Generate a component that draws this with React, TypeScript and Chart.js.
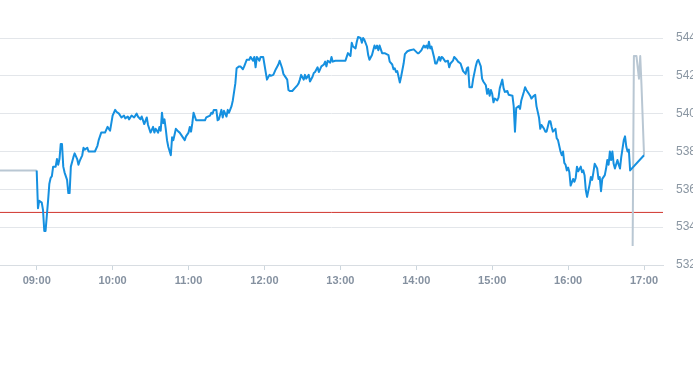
import React, { useEffect, useRef } from "react";
import { Chart, registerables } from "chart.js";

Chart.register(...registerables);

const blueTimes = [
  "09:00","09:01","09:02","09:04","09:05","09:06","09:07","09:09","09:10","09:11","09:12","09:13","09:15","09:16","09:17","09:18","09:19","09:20","09:21","09:22","09:24","09:25","09:26","09:27","09:29","09:30","09:32","09:33","09:34","09:36","09:37","09:38","09:40","09:41","09:44","09:46","09:48","09:49","09:50","09:51","09:53","09:54","09:56","09:58","09:59",
  "10:00","10:02","10:03","10:05","10:07","10:09","10:10","10:12","10:13","10:15","10:17","10:19","10:20","10:22","10:23","10:25","10:27","10:28","10:30","10:32","10:33","10:34","10:36","10:37","10:38","10:39","10:40","10:41","10:42","10:43","10:44","10:46","10:47","10:48","10:49","10:50","10:52","10:53","10:55","10:57","10:58",
  "11:00","11:01","11:02","11:03","11:04","11:06","11:08","11:11","11:13","11:14","11:17","11:18","11:19","11:20","11:22","11:23","11:24","11:26","11:27","11:28","11:30","11:31","11:32","11:34","11:35","11:37","11:38","11:40","11:41","11:43","11:44","11:46","11:48","11:49","11:51","11:52","11:53","11:54","11:56","11:57","11:59",
  "12:00","12:01","12:02","12:04","12:05","12:07","12:09","12:11","12:12","12:14","12:15","12:16","12:18","12:19","12:20","12:22","12:24","12:26","12:27","12:28","12:29","12:31","12:32","12:33","12:35","12:36","12:38","12:39","12:40","12:42","12:43","12:45","12:47","12:48","12:49","12:50","12:52","12:53","12:54","12:56","12:58",
  "13:01","13:04","13:05","13:06","13:08","13:09","13:10","13:12","13:13","13:14","13:16","13:17","13:18","13:19","13:21","13:22","13:23","13:25","13:26","13:27","13:28","13:29","13:30","13:31","13:33","13:35","13:38","13:39","13:41","13:42","13:43","13:44","13:45","13:46","13:47","13:48","13:50","13:51","13:53","13:55","13:58",
  "14:01","14:02","14:04","14:06","14:07","14:08","14:09","14:10","14:11","14:12","14:14","14:15","14:16","14:18","14:19","14:20","14:21","14:23","14:25","14:26","14:27","14:29","14:30","14:32","14:33","14:35","14:36","14:37","14:39","14:40","14:41","14:42","14:44","14:45","14:47","14:48","14:49","14:51","14:52","14:53","14:55","14:56","14:57","14:58","14:59",
  "15:00","15:01","15:02","15:04","15:05","15:06","15:08","15:09","15:10","15:12","15:13","15:16","15:17","15:18","15:19","15:21","15:22","15:23","15:25","15:26","15:27","15:29","15:30","15:31","15:33","15:34","15:35","15:37","15:38","15:39","15:41","15:42","15:43","15:45","15:46","15:47","15:48","15:50","15:51","15:52","15:54","15:55","15:56","15:57","15:58","15:59",
  "16:00","16:01","16:02","16:04","16:05","16:06","16:07","16:08","16:10","16:11","16:12","16:13","16:14","16:15","16:17","16:18","16:19","16:20","16:21","16:23","16:24","16:25","16:26","16:27","16:29","16:30","16:31","16:32","16:33","16:34","16:35","16:36","16:37","16:39","16:40","16:41","16:42","16:44","16:45","16:46","16:47","16:48","16:49",
  "17:00"
];

const blueValues = [
  537.0,535.0,535.4,535.3,534.9,533.8,533.8,535.4,536.3,536.6,536.7,537.2,537.2,537.6,537.3,537.6,538.4,538.4,537.2,536.9,536.5,535.8,535.8,537.2,537.7,537.9,537.6,537.3,537.5,537.8,538.2,538.1,538.2,538.0,538.0,538.0,538.3,538.6,538.8,539.0,539.0,539.0,539.3,539.1,539.5,
  539.9,540.2,540.1,540.0,539.8,539.9,539.75,539.85,539.7,539.9,539.8,540.0,539.85,539.7,539.85,539.45,539.8,539.4,539.0,539.3,539.0,539.2,539.0,539.3,539.1,540.05,539.5,539.7,539.2,538.6,538.25,537.8,538.75,538.6,538.9,539.2,539.05,539.0,538.8,538.6,538.8,
  539.0,539.3,539.05,539.5,540.05,539.65,539.65,539.65,539.65,539.8,539.9,540.05,540.0,540.2,540.2,539.65,539.7,540.2,539.8,540.15,539.85,540.2,540.05,540.4,540.7,541.6,542.4,542.5,542.5,542.35,542.5,542.85,542.85,543.0,542.8,543.0,542.45,543.0,542.8,543.0,543.0,
  542.6,542.2,541.8,542.05,542.0,542.05,542.35,542.6,542.8,542.4,542.1,542.0,541.8,541.25,541.2,541.2,541.35,541.5,541.6,541.8,542.05,541.8,542.05,541.85,542.05,541.7,541.95,542.15,542.2,542.45,542.2,542.5,542.6,542.75,542.5,542.8,542.7,543.0,542.75,542.8,542.8,
  542.8,542.8,543.0,543.2,543.05,543.75,543.55,543.45,543.8,544.05,544.0,543.75,544.0,543.9,543.55,543.1,542.85,543.1,543.35,543.6,543.45,543.6,543.35,543.6,543.2,543.2,543.1,542.75,542.6,542.35,542.4,542.2,542.25,541.95,541.65,541.95,542.65,543.15,543.3,543.35,543.4,
  543.2,543.2,543.35,543.6,543.5,543.6,543.45,543.8,543.45,543.55,543.0,542.65,542.65,543.0,542.8,543.0,542.95,542.75,542.8,542.45,542.65,542.8,543.0,542.85,542.75,542.65,542.45,542.25,542.1,542.4,542.45,541.4,541.4,541.85,542.5,542.75,542.85,542.5,541.85,541.7,541.5,541.05,541.3,540.95,541.25,
  541.05,540.6,540.8,540.7,540.85,541.35,541.8,541.35,541.15,541.2,541.0,540.95,540.4,539.05,540.3,540.4,540.25,540.7,541.15,541.4,541.25,541.05,540.95,540.8,540.95,541.0,540.4,539.8,539.2,539.4,539.2,539.05,539.05,539.6,539.6,539.3,539.05,539.2,538.7,538.6,538.0,537.8,538.0,537.4,537.3,537.0,
  537.15,536.9,536.2,536.55,536.4,536.6,537.2,536.95,537.2,536.9,537.0,536.75,535.95,535.6,536.25,536.65,536.5,536.9,537.35,537.1,536.55,536.65,535.9,536.55,536.75,537.1,537.55,537.3,538.0,537.55,538.0,537.35,537.1,537.55,537.3,537.1,537.7,538.6,538.8,538.25,538.0,538.1,537.0,
  537.8
];

const preTimes = ["08:31", "09:00"];
const preValues = [537.0, 537.0];

const postTimes = ["16:51", "16:52", "16:54", "16:56", "16:57", "16:58", "17:00"];
const postValues = [533.0, 543.05, 543.05, 541.85, 543.05, 541.5, 537.8];

const previousClose = 534.78;

const xTickLabels = ["09:00", "10:00", "11:00", "12:00", "13:00", "14:00", "15:00", "16:00", "17:00"];
const yMin = 532;
const yMax = 544;
const yStep = 2;
const xStart = "08:31";
const xEnd = "17:15";

const toMin = (s: string) => {
  const [h, m] = s.split(":").map(Number);
  return h * 60 + m;
};
const fmt = (v: number) => {
  const h = Math.floor(v / 60);
  const m = Math.round(v - h * 60);
  return String(h).padStart(2, "0") + ":" + String(m).padStart(2, "0");
};
const pts = (times: string[], vals: number[]) => times.map((t, i) => ({ x: toMin(t), y: vals[i] }));

export default function App() {
  const ref = useRef<HTMLCanvasElement | null>(null);
  useEffect(() => {
    if (!ref.current) return;
    const xMin = toMin(xStart);
    const xMax = toMin(xEnd);
    const chart = new Chart(ref.current, {
      type: "line",
      data: {
        datasets: [
          {
            data: pts(blueTimes, blueValues),
            borderColor: "#1590e0",
            borderWidth: 2,
            pointRadius: 0,
            tension: 0,
            borderJoinStyle: "round",
            order: 0,
          },
          {
            data: pts(preTimes, preValues),
            borderColor: "#b9c7d3",
            borderWidth: 2,
            pointRadius: 0,
            tension: 0,
            order: 1,
          },
          {
            data: pts(postTimes, postValues),
            borderColor: "#b9c7d3",
            borderWidth: 2,
            pointRadius: 0,
            tension: 0,
            borderJoinStyle: "round",
            order: 1,
          },
          {
            data: [
              { x: xMin, y: previousClose },
              { x: xMax, y: previousClose },
            ],
            borderColor: "#d0342c",
            borderWidth: 1,
            pointRadius: 0,
            order: 2,
          },
        ],
      },
      options: {
        responsive: false,
        animation: false,
        clip: false as any,
        layout: { padding: { top: 38, bottom: 78, left: 0, right: 0 } },
        plugins: { legend: { display: false }, tooltip: { enabled: false } },
        scales: {
          x: {
            type: "linear",
            min: xMin,
            max: xMax,
            afterBuildTicks: (s: any) => {
              s.ticks = xTickLabels.map((t) => ({ value: toMin(t) }));
            },
            afterFit: (s: any) => {
              s.height = 22;
            },
            grid: {
              drawOnChartArea: false,
              drawTicks: true,
              tickLength: 5,
              color: "#ccd6dd",
            },
            border: { display: true, color: "#d8dde2" },
            ticks: {
              autoSkip: false,
              maxRotation: 0,
              padding: 4,
              color: "#8591a0",
              font: { family: "'Liberation Sans', Arial, sans-serif", size: 11, weight: "bold" },
              callback: (v: any) => fmt(Number(v)),
            },
          },
          y: {
            position: "right",
            min: yMin,
            max: yMax,
            afterFit: (s: any) => {
              s.width = 30;
            },
            grid: { color: "#e3e6ea", drawTicks: false },
            border: { display: false },
            ticks: {
              stepSize: yStep,
              padding: 13,
              color: "#8a96a2",
              font: { family: "'Liberation Sans', Arial, sans-serif", size: 12 },
            },
          },
        },
      },
    });
    return () => chart.destroy();
  }, []);
  return (
    <div style={{ position: "fixed", left: 0, top: 0, width: 693, height: 365, background: "#fff" }}>
      <canvas ref={ref} width={693} height={365} style={{ display: "block" }} />
    </div>
  );
}
